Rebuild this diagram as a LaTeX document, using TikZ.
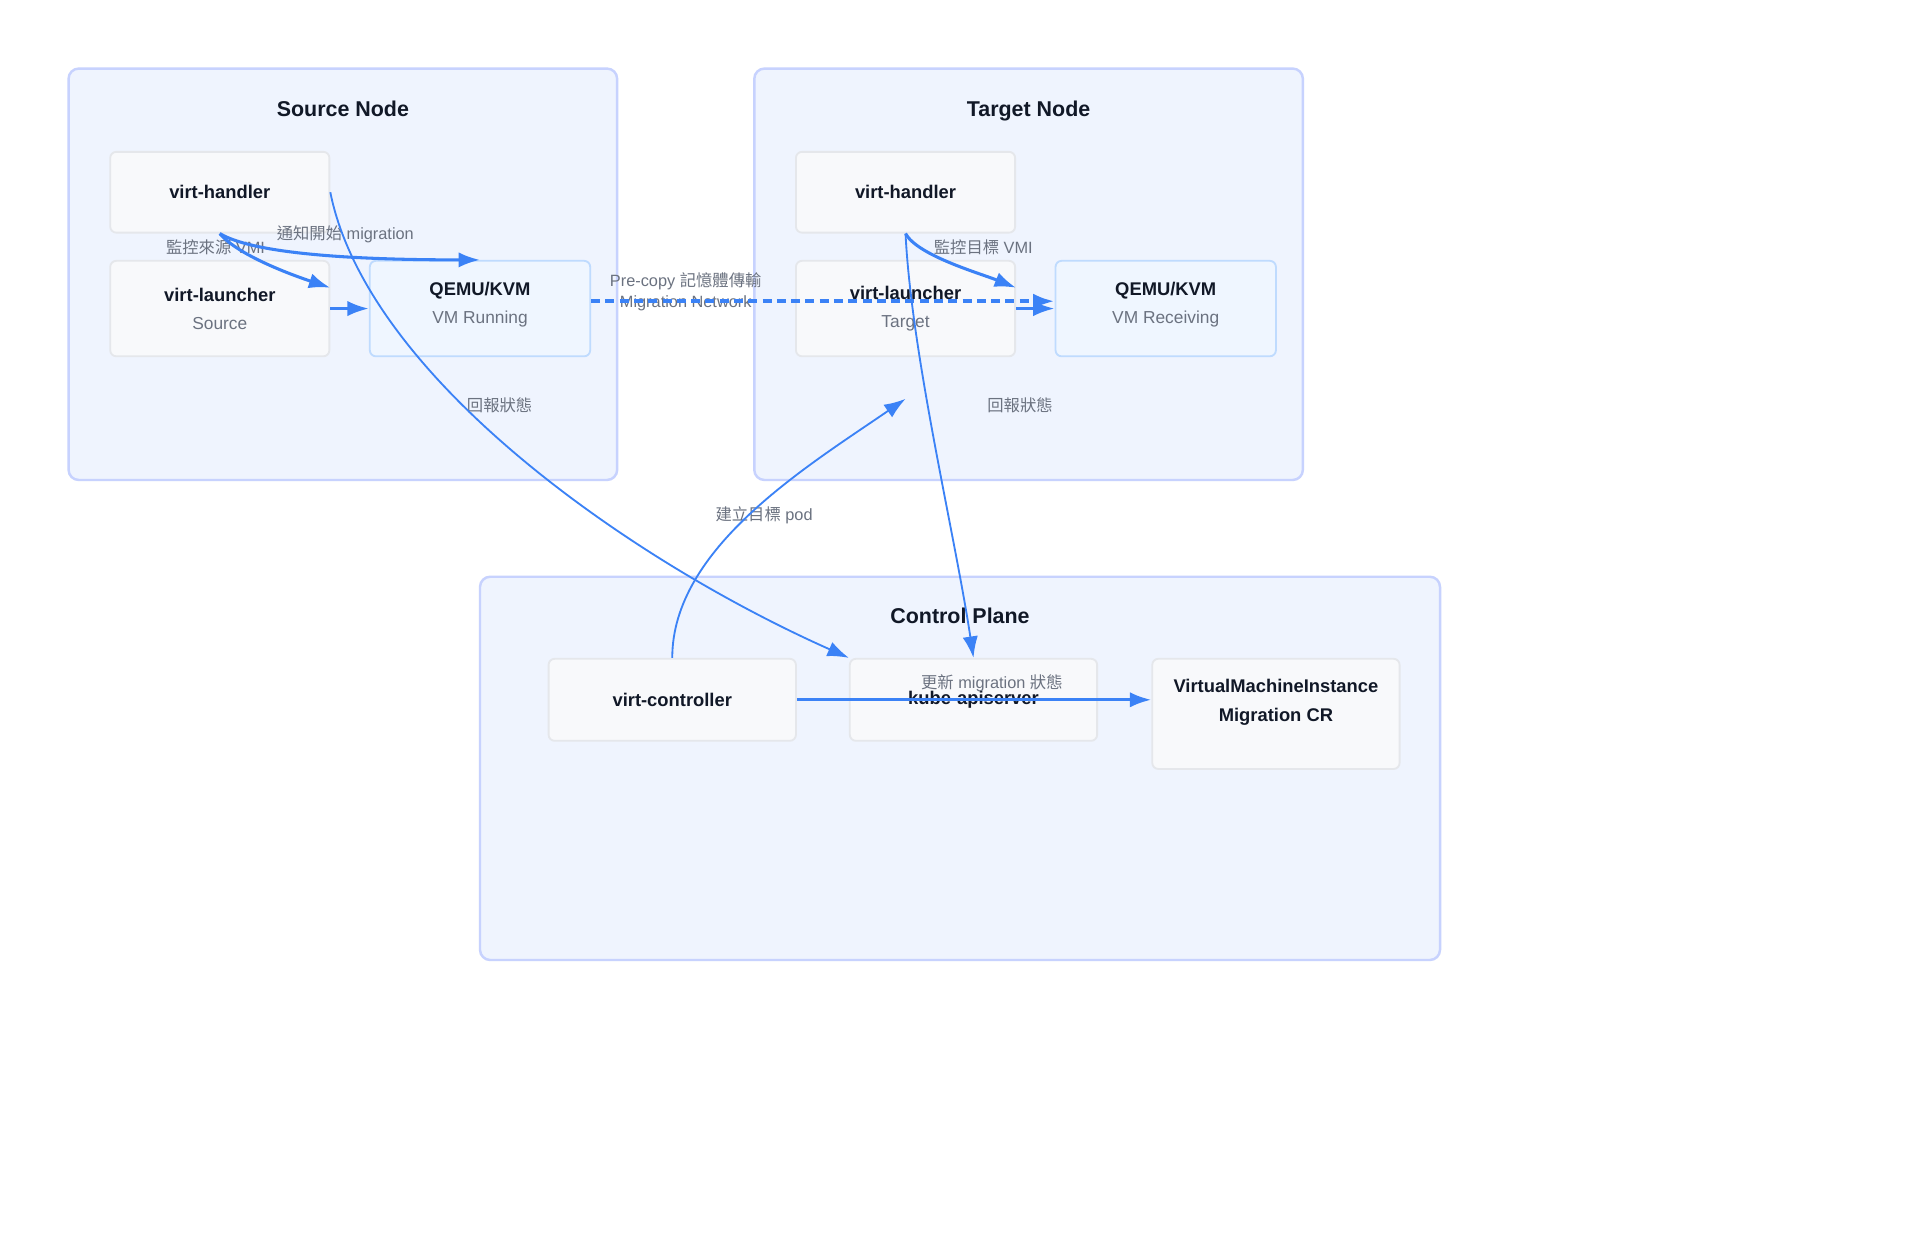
\documentclass[tikz,border=0pt]{standalone}
\usepackage{fontspec}
\setmainfont{Liberation Sans}
\newfontfamily\cjk{Noto Sans CJK TC}
\usetikzlibrary{arrows.meta, calc}

\definecolor{grpfill}{HTML}{EFF4FE}
\definecolor{grpline}{HTML}{C7D2FE}
\definecolor{boxfill}{HTML}{F8F9FB}
\definecolor{boxline}{HTML}{E5E7EB}
\definecolor{vmfill}{HTML}{EFF6FF}
\definecolor{vmline}{HTML}{BFDBFE}
\definecolor{flowblue}{HTML}{3B82F6}
\definecolor{lblgray}{HTML}{6B7280}
\definecolor{ink}{HTML}{111827}

\newcommand{\subtxt}[1]{{\mdseries\fontsize{8.5}{13.8}\selectfont\color{lblgray}#1}}

\begin{document}
\begin{tikzpicture}[x=0.6pt, y=-0.6pt,
		grp/.style={draw=grpline, fill=grpfill, line width=1.2pt, rounded corners=5pt},
		grouptitle/.style={font=\fontsize{10.5}{12}\selectfont\bfseries, text=ink, text depth=0pt},
		comp/.style={draw=boxline, fill=boxfill, line width=0.9pt, rounded corners=3pt,
			minimum width=107.4pt, minimum height=39.6pt, inner sep=0pt, align=center,
			font=\fontsize{9}{13.8}\selectfont\bfseries, text=ink},
		pod/.style={comp, minimum height=46.8pt},
		vm/.style={pod, draw=vmline, fill=vmfill, minimum width=108pt},
		ctl/.style={comp, minimum width=121.2pt, minimum height=40.2pt},
		boxtxt/.style={align=center, inner sep=0pt, font=\fontsize{9}{13.8}\selectfont\bfseries, text=ink},
		lbl/.style={align=center, inner sep=1pt, font=\fontsize{8}{10.2}\selectfont, text=lblgray},
		flow/.style={draw=flowblue, line width=1.5pt, -{Latex[length=10.5pt, width=7.5pt]}},
		thinflow/.style={flow, line width=0.9pt},
		netflow/.style={flow, line width=2pt, dash pattern=on 4.4pt off 2.6pt}]

		\fill[white] (0,0) rectangle (1568,1009);
		\useasboundingbox (0,0) rectangle (1568,1009);

		% groups
		\draw[grp] (56,56) rectangle (504,392);
		\draw[grp] (616,56) rectangle (1064,392);
		\draw[grp] (392,471) rectangle (1176,784);
		\node[grouptitle] (srctitle) at (280,89) {Source Node};
		\node[grouptitle] (tgttitle) at (840,89) {Target Node};
		\node[grouptitle] (ctltitle) at (784,503) {Control Plane};

		% source node
		\node[comp] (sh) at (179.5,157) {virt-handler};
		\node[pod] (sl) at (179.5,252) {virt-launcher\\\subtxt{Source}};
		\node[vm] (qs) at (392,252) {};
		\node[boxtxt] (qstxt) at (392,248.5) {QEMU/KVM\\\subtxt{VM Running}};

		% target node
		\node[comp] (th) at (739.5,157) {virt-handler};
		\node[pod] (tl) at (739.5,252) {virt-launcher\\\subtxt{Target}};
		\node[vm] (qt) at (952,252) {};
		\node[boxtxt] (qttxt) at (952,248.5) {QEMU/KVM\\\subtxt{VM Receiving}};

		% control plane
		\node[ctl] (vc) at (549,571.5) {virt-controller};
		\node[ctl] (ka) at (795,571.5) {kube-apiserver};
		\node[ctl, minimum height=54pt] (vmi) at (1042,583) {};
		\node[boxtxt] (vmitxt) at (1042,573.5) {VirtualMachineInstance\\Migration CR};

		% labels
		\node[lbl] (watchsrc) at (176,202) {{\cjk 監控來源} VMI};
		\node[lbl] (notify) at (282,191) {{\cjk 通知開始} migration};
		\node[lbl] (precopy) at (560,238.5) {Pre-copy {\cjk 記憶體傳輸}\\Migration Network};
		\node[lbl] (watchtgt) at (803,202) {{\cjk 監控目標} VMI};
		\node[lbl] (reportsrc) at (408,331) {\cjk 回報狀態};
		\node[lbl] (reporttgt) at (833,331) {\cjk 回報狀態};
		\node[lbl] (mkpod) at (624,421) {{\cjk 建立目標} pod};
		\node[lbl] (update) at (810,558) {{\cjk 更新} migration {\cjk 狀態}};

		% connectors
		\coordinate (podin) at ($(tl.south)+(0,34)$);
		\draw[flow] (sh.south) .. controls +(15,18) and +(-30,-10) .. ($(sl.east)+(0,-17)$);
		\draw[flow] (sh.south) .. controls +(30,18) and +(-90,0) .. (qs.north);
		\draw[flow] (sl.east) -- (qs.west);
		\draw[netflow] ($(qs.east)+(0,-6)$) -- ($(qt.west)+(0,-6)$);
		\draw[flow] (th.south) .. controls +(10,18) and +(-30,-12) .. ($(tl.east)+(0,-17)$);
		\draw[flow] (tl.east) -- (qt.west);
		\draw[thinflow] (sh.east) .. controls +(30,150) and +(-180,-80) .. (ka.north west);
		\draw[thinflow] (th.south) .. controls +(5,100) and +(-15,-100) .. (ka.north);
		\draw[thinflow] (vc.north) .. controls +(0,-90) and +(-80,55) .. (podin);
		\draw[flow] (vc.east) -- (vc.east -| vmi.west);
	\end{tikzpicture}
\end{document}
